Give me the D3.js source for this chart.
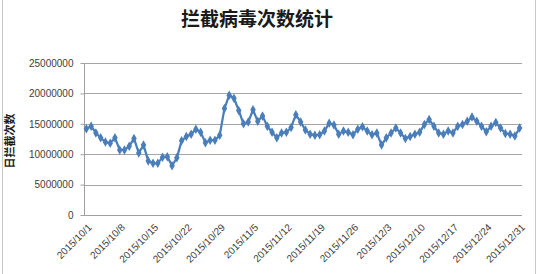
<!DOCTYPE html>
<html lang="zh">
<head>
    <meta charset="utf-8">
    <title>拦截病毒次数统计</title>
    <style type="text/css">
        body{ margin:0; background:#fff; }
        .chart .grid line{ stroke:#a6a6a6; }
        .chart .axis text{ font-family:"Liberation Sans", "DejaVu Sans", sans-serif; font-size:10px; fill:#404040; }
        .chart .axis path, .chart .axis line{ stroke:#a0a0a0; }
    </style>
</head>
<body>
   <svg class="chart" width="539" height="274"></svg>

   <script src="https://d3js.org/d3.v7.min.js"></script>
   <script>
        // 标题与坐标轴文字
        var title = '拦截病毒次数统计';
        var yTitle = '日拦截次数';

        // 日期类别 2015/10/1 ~ 2015/12/31
        var fmt = d3.timeFormat('%Y/%-m/%-d');
        var categories = d3.timeDay.range(new Date(2015, 9, 1), new Date(2016, 0, 1)).map(fmt);

        // 横轴显示的标签(每7天)
        var xTickLabels = ['2015/10/1','2015/10/8','2015/10/15','2015/10/22','2015/10/29','2015/11/5',
            '2015/11/12','2015/11/19','2015/11/26','2015/12/3','2015/12/10','2015/12/17','2015/12/24','2015/12/31'];

        // 纵轴刻度
        var yTicks = [0, 5000000, 10000000, 15000000, 20000000, 25000000];

        // 每日拦截次数
        var values = [
            14200000, 14600000, 13500000, 12700000, 12000000, 11800000, 12700000, 10700000, 10700000, 11300000,
            12600000, 10200000, 11500000, 8900000, 8500000, 8500000, 9500000, 9600000, 8100000, 9400000,
            12200000, 12900000, 13300000, 14100000, 13600000, 11900000, 12300000, 12300000, 13100000, 17500000,
            19700000, 19200000, 17200000, 15000000, 15300000, 17300000, 15400000, 16300000, 14600000, 13600000,
            12700000, 13500000, 13600000, 14400000, 16500000, 15300000, 14000000, 13300000, 13100000, 13200000,
            13800000, 15100000, 14800000, 13300000, 13800000, 13600000, 13200000, 14100000, 14500000, 13800000,
            13200000, 13500000, 11500000, 12700000, 13500000, 14300000, 13500000, 12600000, 12900000, 13300000,
            13600000, 14900000, 15700000, 14600000, 13500000, 13300000, 13800000, 13500000, 14600000, 14900000,
            15400000, 16100000, 15400000, 14600000, 13700000, 14600000, 15200000, 14300000, 13400000, 13300000,
            13000000, 14300000
        ];

        var svg = d3.select('.chart'),
            plot = {left: 84, right: 522, top: 63, bottom: 215};

        // 外框
        svg.append('line').attr('x1', 2.5).attr('x2', 2.5).attr('y1', 0).attr('y2', 274).attr('stroke', '#c8c8c8');
        svg.append('line').attr('x1', 535.5).attr('x2', 535.5).attr('y1', 0).attr('y2', 274).attr('stroke', '#c8c8c8');

        // 比例尺
        var xscale = d3.scalePoint()
                    .domain(categories)
                    .range([plot.left, plot.right])
                    .padding(0.5);

        var yscale = d3.scaleLinear()
                    .domain([0, 25000000])
                    .range([plot.bottom, plot.top]);

        // 网格线
        svg.append('g')
            .attr('class', 'grid')
            .selectAll('line')
            .data(yTicks.slice(1))
            .enter()
            .append('line')
            .attr('x1', plot.left)
            .attr('x2', plot.right)
            .attr('y1', function(d){ return Math.round(yscale(d)) + 0.5; })
            .attr('y2', function(d){ return Math.round(yscale(d)) + 0.5; });

        // 纵轴
        var yAxis = d3.axisLeft(yscale).tickValues(yTicks).tickSize(4).tickPadding(7)
                    .tickFormat(d3.format('d'));
        svg.append('g')
            .attr('class', 'axis')
            .attr('transform', 'translate(' + (plot.left + 0.5) + ',0)')
            .call(yAxis)
            .call(function(g){ g.select('.domain').attr('d', 'M0,' + plot.top + 'V' + plot.bottom); });

        // 横轴
        var xAxis = d3.axisBottom(xscale).tickValues(xTickLabels).tickSize(0).tickSizeOuter(0);
        var gx = svg.append('g')
            .attr('class', 'axis')
            .attr('transform', 'translate(0,' + (plot.bottom + 0.5) + ')')
            .call(xAxis);
        gx.select('.domain').attr('d', 'M' + plot.left + ',0H' + plot.right);
        gx.selectAll('text')
            .attr('text-anchor', 'end')
            .attr('dy', '0.35em')
            .attr('transform', 'translate(3,10) rotate(-45)')
            .attr('y', 0)
            .attr('x', 0);

        // 折线
        var line = d3.line()
                    .x(function(d, i){ return xscale(categories[i]); })
                    .y(function(d){ return yscale(d); });

        svg.append('path')
            .datum(values)
            .attr('fill', 'none')
            .attr('stroke', '#4a7ebb')
            .attr('stroke-width', 2.25)
            .attr('stroke-linejoin', 'round')
            .attr('d', line);

        // 菱形标记
        var diamond = d3.symbol().type(d3.symbolDiamond).size(26);
        svg.append('g')
            .selectAll('path')
            .data(values)
            .enter()
            .append('path')
            .attr('d', diamond)
            .attr('fill', '#4a7ebb')
            .attr('transform', function(d, i){
                return 'translate(' + xscale(categories[i]) + ',' + yscale(d) + ')';
            });

        // 标题
        svg.append('text')
            .attr('x', 257)
            .attr('y', 26)
            .attr('text-anchor', 'middle')
            .attr('font-family', '"Noto Sans CJK SC", sans-serif')
            .attr('font-weight', 'bold')
            .attr('font-size', 19)
            .attr('fill', '#1a1a1a')
            .text(title);

        // 纵轴标题
        svg.append('text')
            .attr('transform', 'translate(14,' + ((plot.top + plot.bottom) / 2 + 2) + ') rotate(-90)')
            .attr('text-anchor', 'middle')
            .attr('font-family', '"Noto Sans CJK SC", sans-serif')
            .attr('font-weight', 'bold')
            .attr('font-size', 11)
            .attr('fill', '#1a1a1a')
            .text(yTitle);
   </script>
</body>
</html>
